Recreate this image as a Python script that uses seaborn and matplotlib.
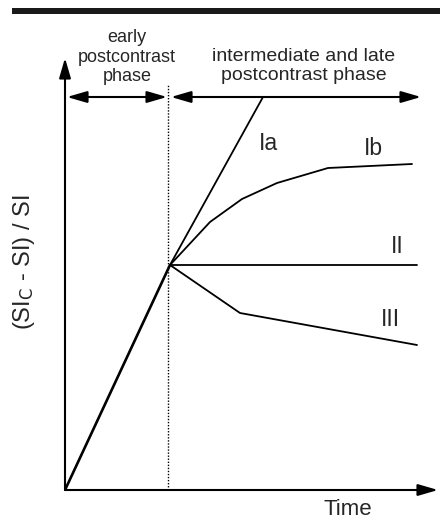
import matplotlib
matplotlib.use("Agg")
import matplotlib.pyplot as plt
import matplotlib.patches as mpatches
import seaborn as sns

# ---- data (arbitrary units) ----
rise_t = [0.0, 10.5]
rise_s = [0.0, 22.5]

ia_t = [10.5, 19.8]
ia_s = [22.5, 39.3]

ib_t = [10.5, 14.5, 17.7, 21.2, 26.3, 34.7]
ib_s = [22.5, 26.8, 29.1, 30.7, 32.2, 32.6]

ii_t = [10.5, 35.2]
ii_s = [22.5, 22.5]

iii_t = [10.5, 17.5, 35.2]
iii_s = [22.5, 17.7, 14.5]

phase_split = 10.3
curve_names = ["Ia", "Ib", "II", "III"]
header_left = "early\npostcontrast\nphase"
header_right = "intermediate and late\npostcontrast phase"
x_label = "Time"
y_label = "(SI$_{\\mathrm{C}}$ - SI) / SI"

sns.set_style("white")
plt.rcParams["font.family"] = ["Liberation Sans", "DejaVu Sans"]
plt.rcParams["mathtext.default"] = "regular"

W, H = 440, 522
fig = plt.figure(figsize=(W / 100, H / 100), dpi=100)
ax = fig.add_axes([65 / W, (H - 490) / H, (437 - 65) / W, (490 - 60) / H])
ax.set_xlim(0, 37.2)
ax.set_ylim(0, 43.0)
ax.axis("off")

# top decorative bar
fig.add_artist(mpatches.Rectangle((12 / W, (H - 14) / H), 1 - 12 / W, 6 / H,
                                  transform=fig.transFigure, color="#1a1a1a", lw=0))

# curves
sns.lineplot(x=rise_t, y=rise_s, ax=ax, color="black", lw=1.9, sort=False)
for t, s in [(ia_t, ia_s), (ib_t, ib_s), (ii_t, ii_s), (iii_t, iii_s)]:
    sns.lineplot(x=t, y=s, ax=ax, color="black", lw=1.3, sort=False)

# dotted phase separator
ax.plot([phase_split, phase_split], [0, 40.5], color="black", lw=1.0,
        ls=(0, (1, 1.2)), clip_on=False)

arrow_one = dict(arrowstyle="-|>,head_length=1.1,head_width=0.32", lw=1.5,
                 color="black", mutation_scale=11, shrinkA=0, shrinkB=0)
arrow_two = dict(arrowstyle="<|-|>,head_length=1.1,head_width=0.32", lw=1.5,
                 color="black", mutation_scale=11, shrinkA=0, shrinkB=0)

# axes with arrows
ax.annotate("", xy=(0, 43.2), xytext=(0, 0), arrowprops=arrow_one, annotation_clip=False)
ax.annotate("", xy=(37.3, 0), xytext=(0, 0), arrowprops=arrow_one, annotation_clip=False)

# phase arrows
ax.annotate("", xy=(10.2, 39.3), xytext=(0.2, 39.3), arrowprops=arrow_two, annotation_clip=False)
ax.annotate("", xy=(35.6, 39.3), xytext=(10.6, 39.3), arrowprops=arrow_two, annotation_clip=False)

# header texts
ax.text(6.2, 43.3, header_left, ha="center", va="center", fontsize=13,
        linespacing=1.2, clip_on=False)
ax.text(23.9, 42.4, header_right, ha="center", va="center", fontsize=14,
        linespacing=1.15, clip_on=False)

# curve labels
label_pos = [(20.3, 34.7), (30.8, 34.2), (33.2, 24.4), (32.5, 17.1)]
for name, (lx, ly) in zip(curve_names, label_pos):
    ax.text(lx, ly, name, ha="center", va="center", fontsize=16.5)

# axis labels
ax.text(28.3, -1.95, x_label, ha="center", va="center", fontsize=16, clip_on=False)
ax.text(-4.1, 22.8, y_label, ha="center", va="center", fontsize=17, rotation=90,
        clip_on=False)

fig.savefig("out.png", dpi=100)
